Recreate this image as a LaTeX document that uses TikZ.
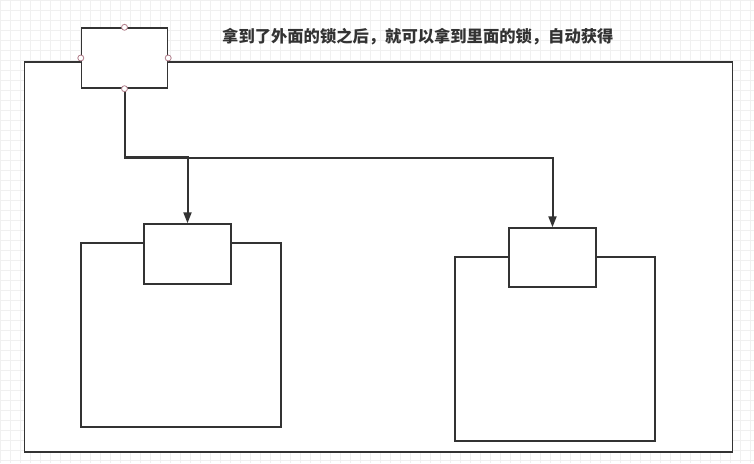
\documentclass[tikz,border=0pt]{standalone}
\usepackage{fontspec}
\usepackage{tikz}
\usetikzlibrary{arrows.meta,positioning}
\newfontfamily\cjk{Noto Sans CJK SC}
\definecolor{LockInk}{HTML}{333333}
\definecolor{LockGrid}{HTML}{F0F0F0}
\definecolor{LockPort}{HTML}{B07D8A}

\begin{document}
\begin{tikzpicture}[
      x=1pt,y=-1pt,
      >={Triangle[length=11pt,width=8pt]},
      flow/.style={->,line width=2pt,draw=LockInk},
      box/.style={draw=LockInk,fill=white,line width=1.4pt,inner sep=0pt},
      port/.style={circle,draw=LockPort,fill=white,line width=0.8pt,
        inner sep=0pt,minimum size=6pt}
    ]
    \useasboundingbox (0,0) rectangle (754,463);
    % background grid
    \foreach \gx in {0,10,...,750}
      \draw[LockGrid,line width=0.6pt] (\gx,0) -- (\gx,463);
    \foreach \gy in {0,10,...,460}
      \draw[LockGrid,line width=0.6pt] (0,\gy) -- (754,\gy);

    \node[box,minimum width=708pt,minimum height=390pt] (outer) at (378.5,257) {};

    \node[box,minimum width=200pt,minimum height=184pt] (bigL) at (181,335) {};
    \node[box,minimum width=87pt,minimum height=60pt] (inL) at (187.5,254) {};
    \node[box,minimum width=200pt,minimum height=184pt] (bigR) at (555,349) {};
    \node[box,minimum width=87pt,minimum height=59pt] (inR) at (552.5,257.5) {};

    \node[box,minimum width=86pt,minimum height=60pt] (lock) at (124.5,58) {};

    \node[anchor=west,inner sep=0pt,text=LockInk,
      font=\cjk\bfseries\fontsize{16.3pt}{18pt}\selectfont] (note) at (222,37)
      {拿到了外面的锁之后，就可以拿到里面的锁，自动获得};

    \draw[flow] (lock.south) -- ++(0,68.5) -| (inL.north);
    \draw[flow] (lock.south) -- ++(0,69) -| (inR.north);
    \foreach \a in {north,south,east,west}
      \node[port] at (lock.\a) {};
  \end{tikzpicture}
\end{document}
